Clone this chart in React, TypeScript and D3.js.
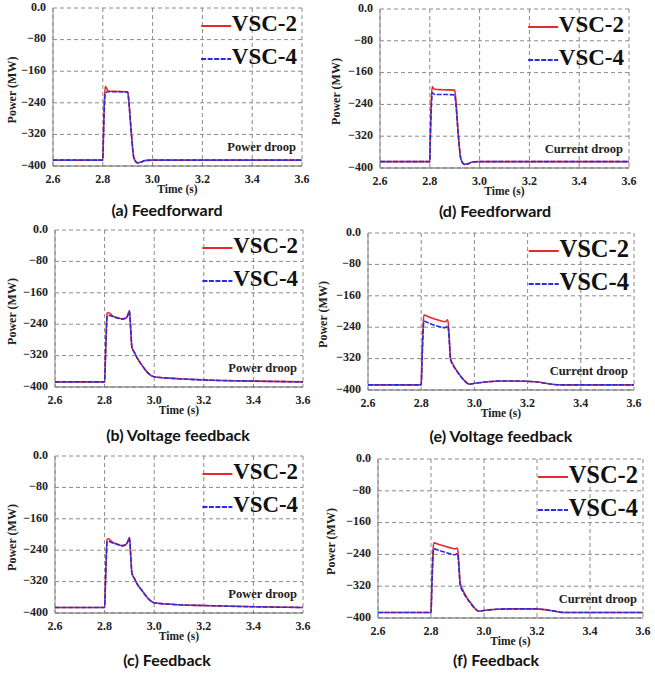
import React from 'react';
import * as d3 from 'd3';

// ---------- data ----------
const X_TICKS = [2.6, 2.8, 3.0, 3.2, 3.4, 3.6];
const Y_TICKS = [0, -80, -160, -240, -320, -400];
const SERIES_NAMES = ['VSC-2', 'VSC-4'];

// Feedforward (a, d)
const T_FF = [2.6, 2.8, 2.802, 2.806, 2.81, 2.815, 2.82, 2.85, 2.9, 2.905, 2.915, 2.925, 2.94, 2.955, 2.97, 3.0, 3.6];
const A_VSC2 = [-385, -385, -330, -240, -198, -203, -210, -211, -212, -240, -320, -380, -392, -390, -386, -385, -385];
const A_VSC4 = [-385, -385, -345, -255, -218, -213, -212, -212, -213, -240, -320, -380, -392, -390, -386, -385, -385];
const D_VSC2 = [-384, -384, -320, -230, -195, -200, -202, -203, -204, -232, -320, -378, -391, -389, -385, -384, -384];
const D_VSC4 = [-384, -384, -330, -250, -211, -213, -215, -215, -216, -242, -322, -378, -391, -389, -385, -384, -384];

// Voltage feedback / Feedback, power droop (b, c)
const T_PD = [2.6, 2.8, 2.803, 2.807, 2.81, 2.815, 2.83, 2.85, 2.87, 2.885, 2.895, 2.9, 2.905, 2.91, 2.92, 2.935, 2.95, 2.965, 2.98, 3.0, 3.1, 3.2, 3.4, 3.6];
const B_VSC2 = [-387, -387, -330, -250, -212, -210, -218, -223, -226, -225, -215, -205, -250, -298, -312, -330, -344, -357, -367, -374, -379, -382, -385, -387];
const B_VSC4 = [-387, -387, -335, -260, -222, -217, -220, -224, -227, -225, -215, -206, -250, -298, -312, -330, -344, -357, -367, -374, -379, -382, -385, -387];
const C_VSC2 = [-386, -386, -330, -250, -212, -211, -219, -224, -228, -226, -216, -207, -250, -298, -312, -330, -342, -355, -366, -374, -379, -381, -384, -386];
const C_VSC4 = [-386, -386, -335, -260, -220, -217, -221, -225, -229, -226, -216, -208, -250, -298, -312, -330, -342, -355, -366, -374, -379, -381, -384, -386];

// Voltage feedback / Feedback, current droop (e, f)
const T_CD = [2.6, 2.8, 2.803, 2.807, 2.81, 2.83, 2.85, 2.87, 2.89, 2.9, 2.905, 2.91, 2.92, 2.935, 2.95, 2.965, 2.98, 3.0, 3.05, 3.1, 3.15, 3.2, 3.23, 3.26, 3.3, 3.33, 3.6];
const E_VSC2 = [-387, -387, -320, -240, -209, -214, -219, -223, -226, -221, -260, -318, -335, -352, -366, -378, -385, -383, -379, -377, -377, -378, -379, -382, -386, -387, -387];
const E_VSC4 = [-387, -387, -330, -255, -225, -230, -235, -239, -241, -237, -270, -322, -337, -353, -367, -378, -385, -383, -379, -377, -377, -378, -379, -382, -386, -387, -387];
const F_VSC2 = [-386, -386, -320, -240, -211, -215, -219, -223, -226, -224, -260, -312, -330, -348, -362, -375, -383, -381, -378, -377, -377, -377, -379, -382, -386, -386, -386];
const F_VSC4 = [-386, -386, -330, -255, -226, -230, -234, -238, -241, -238, -270, -316, -333, -350, -364, -376, -383, -381, -378, -377, -377, -377, -379, -382, -386, -386, -386];

const CAPTIONS = ['(a) Feedforward', '(d) Feedforward', '(b) Voltage feedback', '(e) Voltage feedback', '(c) Feedback', '(f) Feedback'];
const DROOP_LABELS = ['Power droop', 'Current droop', 'Power droop', 'Current droop', 'Power droop', 'Current droop'];

// ---------- layout ----------
const PANELS = [
  { t: T_FF, s2: A_VSC2, s4: A_VSC4, l: 53, r: 302, tp: 8, b: 166, capX: 167, capY: 212, ylX: 13 },
  { t: T_FF, s2: D_VSC2, s4: D_VSC4, l: 380, r: 629, tp: 9, b: 168, capX: 495, capY: 213, ylX: 337 },
  { t: T_PD, s2: B_VSC2, s4: B_VSC4, l: 55, r: 303, tp: 230, b: 387, capX: 178, capY: 437, ylX: 13 },
  { t: T_CD, s2: E_VSC2, s4: E_VSC4, l: 368, r: 634, tp: 233, b: 390, capX: 501, capY: 438, ylX: 324 },
  { t: T_PD, s2: C_VSC2, s4: C_VSC4, l: 55, r: 303, tp: 456, b: 613, capX: 167, capY: 662, ylX: 13 },
  { t: T_CD, s2: F_VSC2, s4: F_VSC4, l: 378, r: 643, tp: 459, b: 618, capX: 496, capY: 662, ylX: 332 },
];

const RED = '#e42a2a';
const BLUE = '#2b2be0';
const SERIF = '"Liberation Serif", "Times New Roman", serif';
const SANS = 'Lato, "Open Sans", sans-serif';

function Panel({ p, i }: { p: any; i: number }) {
  const x = d3.scaleLinear().domain([2.6, 3.6]).range([p.l, p.r]);
  const y = d3.scaleLinear().domain([-400, 0]).range([p.b, p.tp]);
  const line = d3
    .line<number>()
    .x((_, k) => x(p.t[k]))
    .y((v) => y(v))
    .curve(d3.curveMonotoneX);
  const w = p.r - p.l;
  const legFs = 23 * (w / 249);
  const textEnd = p.r - 5;
  const midY = (p.tp + p.b) / 2;
  return (
    <g>
      {/* grid */}
      {X_TICKS.map((v) => (
        <line key={'gx' + v} x1={x(v)} x2={x(v)} y1={p.tp} y2={p.b} stroke="#8a8a8a" strokeWidth={1} strokeDasharray="4,3" />
      ))}
      {Y_TICKS.map((v) => (
        <line key={'gy' + v} x1={p.l} x2={p.r} y1={y(v)} y2={y(v)} stroke="#8a8a8a" strokeWidth={1} strokeDasharray="4,3" />
      ))}
      <line x1={p.l} x2={p.l} y1={p.tp} y2={p.b} stroke="#888" strokeWidth={1} />
      <line x1={p.l} x2={p.r} y1={p.b} y2={p.b} stroke="#666" strokeWidth={1.2} />
      {/* tick labels */}
      {Y_TICKS.map((v) => (
        <text key={'ty' + v} x={p.l - 7} y={y(v)} textAnchor="end" dominantBaseline="middle" fontFamily={SERIF} fontWeight="bold" fontSize={12} fill="#222">
          {v === 0 ? '0.0' : d3.format('d')(v)}
        </text>
      ))}
      {X_TICKS.map((v) => (
        <text key={'tx' + v} x={x(v)} y={p.b + 14} textAnchor="middle" dominantBaseline="middle" fontFamily={SERIF} fontWeight="bold" fontSize={12} fill="#222">
          {d3.format('.1f')(v)}
        </text>
      ))}
      <text x={(p.l + p.r) / 2} y={p.b + 24} textAnchor="middle" dominantBaseline="middle" fontFamily={SERIF} fontWeight="bold" fontSize={11.5} fill="#222">
        Time (s)
      </text>
      <text transform={`translate(${p.ylX},${midY + 3}) rotate(-90)`} textAnchor="middle" dominantBaseline="middle" fontFamily={SERIF} fontWeight="bold" fontSize={12} fill="#222">
        Power (MW)
      </text>
      {/* data */}
      <path d={line(p.s2) || ''} fill="none" stroke={RED} strokeWidth={1.6} />
      <path d={line(p.s4) || ''} fill="none" stroke={BLUE} strokeWidth={1.6} strokeDasharray="5,1.5" />
      {/* droop label */}
      <text x={p.r - 6} y={p.b - 18} textAnchor="end" dominantBaseline="middle" fontFamily={SERIF} fontWeight="bold" fontSize={12.5} fill="#222">
        {DROOP_LABELS[i]}
      </text>
      {/* legend */}
      {SERIES_NAMES.map((name, k) => {
        const ly = p.tp + (k === 0 ? 18 : 51);
        return (
          <g key={name}>
            <text x={textEnd} y={ly} textAnchor="end" dominantBaseline="middle" fontFamily={SERIF} fontWeight="bold" fontSize={legFs} fill="#111">
              {name}
            </text>
            <line
              x1={textEnd - legFs * 2.82 - 31}
              x2={textEnd - legFs * 2.82 - 1}
              y1={ly}
              y2={ly}
              stroke={k === 0 ? RED : BLUE}
              strokeWidth={2}
              strokeDasharray={k === 0 ? undefined : '5,1.5'}
            />
          </g>
        );
      })}
      {/* caption */}
      <text x={p.capX} y={p.capY} textAnchor="middle" dominantBaseline="middle" fontFamily={SANS} fontWeight="bold" fontSize={16} fill="#111">
        {CAPTIONS[i]}
      </text>
    </g>
  );
}

export default function App() {
  return (
    <svg width={655} height={677} style={{ position: 'absolute', left: 0, top: 0, background: '#fff' }}>
      <rect width={655} height={677} fill="#fff" />
      {PANELS.map((p, i) => (
        <Panel key={i} p={p} i={i} />
      ))}
    </svg>
  );
}
